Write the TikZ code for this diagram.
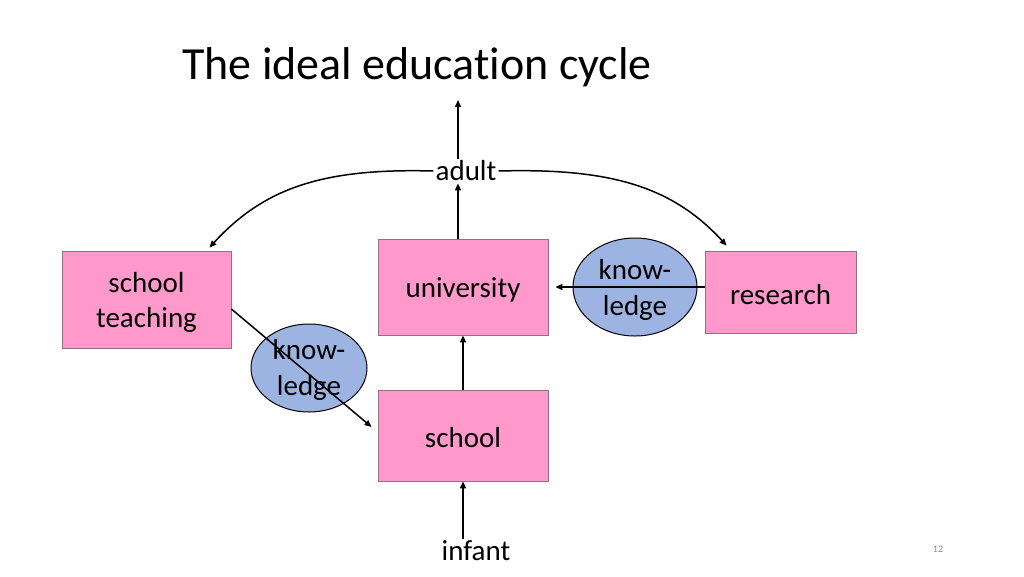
\documentclass[tikz,border=0pt]{standalone}
\usepackage{fontspec}
\setmainfont{Carlito}[Ligatures=NoCommon]
\usetikzlibrary{arrows.meta,calc,shapes.geometric}
\definecolor{boxpink}{RGB}{255,153,204}
\definecolor{boxedge}{RGB}{150,110,130}
\definecolor{ellblue}{RGB}{157,179,226}
\definecolor{numgray}{RGB}{137,137,137}
\tikzset{
  box/.style={draw=boxedge, line width=0.8pt, fill=boxpink, inner sep=0pt},
  blob/.style={ellipse, draw=black, line width=1pt, fill=ellblue, inner sep=0pt},
  lbl/.style={inner sep=2pt, align=center, font=\fontsize{29}{35.5}\selectfont},
  arr/.style={-{Triangle[length=7pt,width=6pt]}, line width=1.5pt}
}
\begin{document}
\begin{tikzpicture}[x=1pt,y=-1pt]
\useasboundingbox (0,0) rectangle (1024,576);
\node[anchor=base west, inner sep=0pt, font=\fontsize{46}{55}\selectfont] (title) at (182,79) {The ideal education cycle};

\node[box, minimum width=169pt, minimum height=97pt] (st) at (146.5,299.5) {};
\node[box, minimum width=170pt, minimum height=96pt] (uni) at (463,287) {};
\node[box, minimum width=151pt, minimum height=82pt] (res) at (780.5,292) {};
\node[box, minimum width=170pt, minimum height=91pt] (sch) at (463,435.5) {};
\node[lbl] (stt) at ($(st.center)+(0,3)$) {school\\teaching};
\node[lbl] (unit) at ($(uni.center)+(0,3)$) {university};
\node[lbl] (rest) at ($(res.center)+(0,3)$) {research};
\node[lbl] (scht) at ($(sch.center)+(0,2.5)$) {school};

\node[blob, minimum width=124pt, minimum height=98pt] (k2) at (635,287) {};
\node[lbl] (k2t) at ($(k2.center)+(0,3)$) {know-\\ledge};
\node[blob, minimum width=116pt, minimum height=88pt] (k1) at (309,368) {};
\node[lbl] (k1t) at ($(k1.center)+(0,2)$) {know-\\ledge};

\node[lbl] (adult) at (466,171) {adult};
\node[lbl] (infant) at (476,551) {infant};
\node[font=\fontsize{10}{12}\selectfont, text=numgray] (num) at (938,549) {12};
\coordinate (up) at (458,100);

\draw[arr] ($(adult.north)+(-8,0)$) -- (up);
\draw[arr] ($(uni.north)+(-5,0)$) -- ($(adult.south)+(-8,0)$);
\draw[arr] (sch.north) -- (uni.south);
\draw[arr] ($(infant.north)+(-13,0)$) -- (sch.south);
\draw[arr] ($(res.west)+(0,-5)$) -- ($(uni.east)+(7,0)$);
\draw[arr] ($(st.east)+(0,9.5)$) -- ($(sch.west)+(-6,-8.5)$);
\draw[arr] (adult.west) .. controls +(-110,-3) and +(55,-60) .. ($(st.north east)+(-22,-3)$);
\draw[arr] (adult.east) .. controls +(110,-3) and +(-55,-60) .. ($(res.north west)+(22,-5)$);
\end{tikzpicture}
\end{document}
